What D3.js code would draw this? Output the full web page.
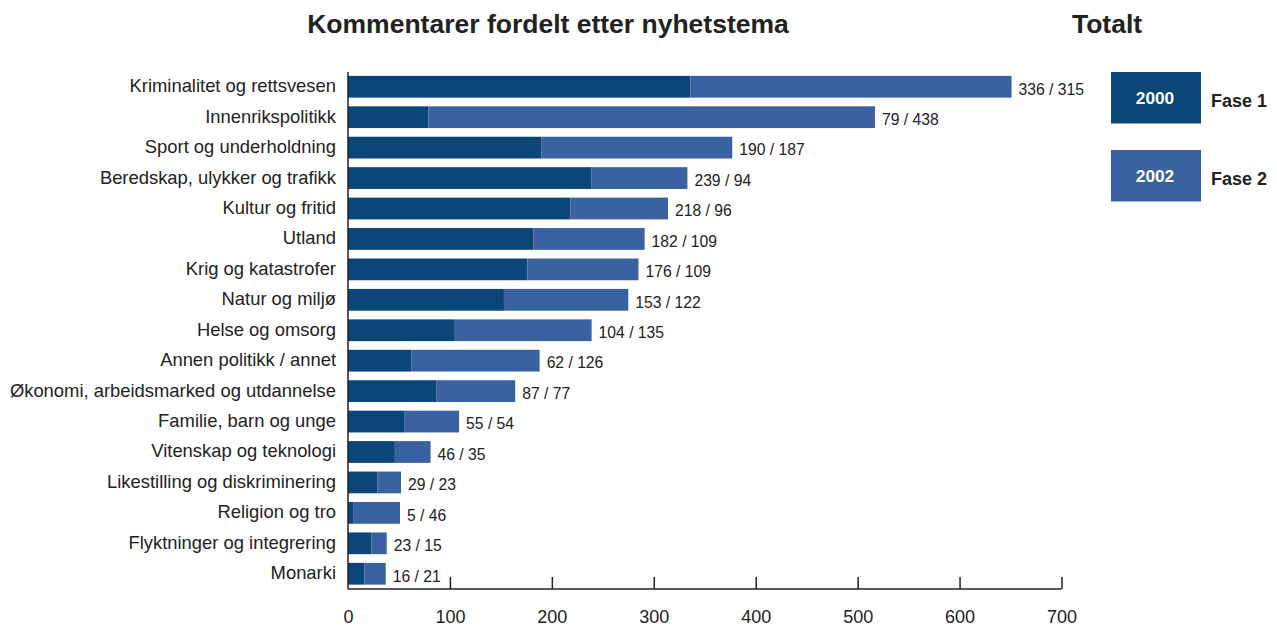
<!DOCTYPE html>
<html><head><meta charset="utf-8">
<script src="https://cdn.jsdelivr.net/npm/d3@7"></script>
<style>body{margin:0;background:#fff}svg{display:block;font-family:"Liberation Sans",Arial,sans-serif}</style>
</head><body>
<svg id="c" width="1277" height="626"></svg>
<script>
const categories = ["Kriminalitet og rettsvesen","Innenrikspolitikk","Sport og underholdning","Beredskap, ulykker og trafikk","Kultur og fritid","Utland","Krig og katastrofer","Natur og miljø","Helse og omsorg","Annen politikk / annet","Økonomi, arbeidsmarked og utdannelse","Familie, barn og unge","Vitenskap og teknologi","Likestilling og diskriminering","Religion og tro","Flyktninger og integrering","Monarki"];
const fase1 = [336,79,190,239,218,182,176,153,104,62,87,55,46,29,5,23,16];
const fase2 = [315,438,187,94,96,109,109,122,135,126,77,54,35,23,46,15,21];
const ticks = [0,100,200,300,400,500,600,700];
const seriesNames = ["Fase 1","Fase 2"];
const seriesYears = ["2000","2002"];
const colors = ["#0c4577","#3a62a0"];

const svg = d3.select("#c");
const x = d3.scaleLinear().domain([0,700]).range([348,1061.5]);
const y = d3.scaleBand().domain(categories).range([71,589.5]).paddingInner(0.285).paddingOuter(0.16);

svg.append("text").attr("x",548).attr("y",33).attr("text-anchor","middle")
  .attr("font-size",26.5).attr("font-weight","bold").attr("fill","#222").text("Kommentarer fordelt etter nyhetstema");
svg.append("text").attr("x",1107).attr("y",33).attr("text-anchor","middle")
  .attr("font-size",26.5).attr("font-weight","bold").attr("fill","#222").text("Totalt");

const g = svg.append("g");
categories.forEach((c,i)=>{
  g.append("rect").attr("x",x(0)).attr("y",y(c)).attr("width",x(fase1[i])-x(0)).attr("height",y.bandwidth()).attr("fill",colors[0]);
  g.append("rect").attr("x",x(fase1[i])).attr("y",y(c)).attr("width",x(fase1[i]+fase2[i])-x(fase1[i])).attr("height",y.bandwidth()).attr("fill",colors[1]);
  g.append("text").attr("x",x(fase1[i]+fase2[i])+7).attr("y",y(c)+y.bandwidth()/2+7.8)
    .attr("font-size",15.7).attr("fill","#222").text(fase1[i]+" / "+fase2[i]);
  g.append("text").attr("x",336).attr("y",y(c)+y.bandwidth()/2+5.5)
    .attr("text-anchor","end").attr("font-size",18.4).attr("fill","#222").text(c);
});

// axis
const ax = svg.append("g").attr("transform","translate(0,589)")
  .call(d3.axisBottom(x).tickValues(ticks).tickSize(-12).tickPadding(21).tickFormat(d3.format("d")));
ax.select(".domain").attr("stroke","#222").attr("stroke-width",1.5).attr("d","M348,0H1061.5");
ax.selectAll(".tick line").attr("stroke","#222").attr("stroke-width",1.5);
ax.selectAll(".tick text").attr("font-size",18).attr("fill","#222").attr("font-family","Liberation Sans, Arial, sans-serif").attr("dy","0.71em");
ax.selectAll(".tick").filter(d=>d===0).select("line").remove();
svg.append("line").attr("x1",348).attr("x2",348).attr("y1",72).attr("y2",589).attr("stroke","#222").attr("stroke-width",1.5);

// legend
const ly = [72,150];
seriesNames.forEach((s,i)=>{
  svg.append("rect").attr("x",1111).attr("y",ly[i]).attr("width",90).attr("height",51.5).attr("fill",colors[i]);
  svg.append("text").attr("x",1155).attr("y",ly[i]+32).attr("text-anchor","middle").attr("font-size",17.3).attr("font-weight","bold").attr("fill","#fff").text(seriesYears[i]);
  svg.append("text").attr("x",1211).attr("y",ly[i]+35).attr("font-size",18).attr("font-weight","bold").attr("fill","#222").text(s);
});
</script>
</body></html>
